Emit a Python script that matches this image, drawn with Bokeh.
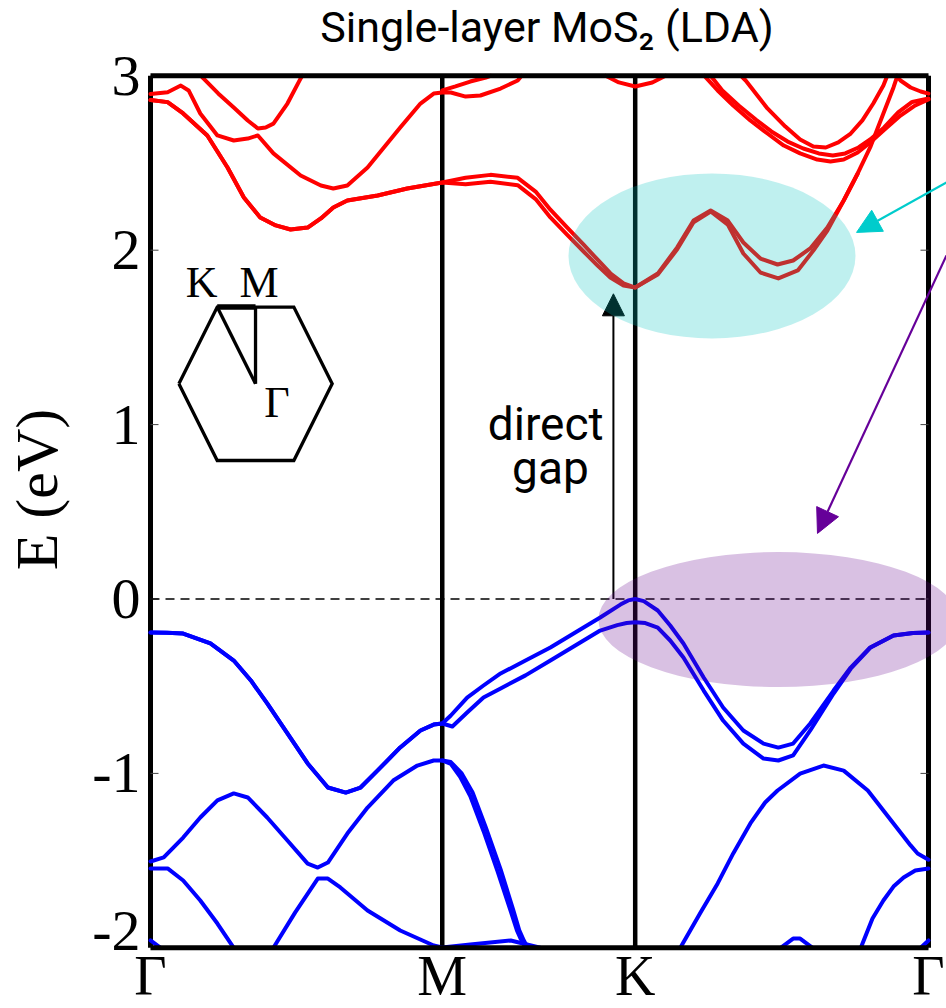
from bokeh.plotting import figure
from bokeh.models import Range1d, FixedTicker, Label, Arrow, NormalHead
from bokeh.embed import file_html
from bokeh.resources import INLINE

# ---- k-path and energy window -------------------------------------------
k_path = [0.0, 0.375, 0.623, 1.0]
k_labels = ["Γ", "M", "K", "Γ"]
e_min, e_max = -2.0, 3.0
energy_ticks = [-2, -1, 0, 1, 2, 3]
energy_tick_labels = ["-2", "-1", "0", "1", "2", "3"]
# the lowest label sits a little above its tick so it clears the Γ below it
energy_label_pos = [-1.905, -1, 0, 1, 2, 3]
title_text = "Single-layer MoS₂ (LDA)"

# ---- conduction bands (k, E in eV) --------------------------------------
cb1_gm = [(0.000, 2.861), (0.022, 2.849), (0.042, 2.784), (0.073, 2.658), (0.099, 2.474),
          (0.120, 2.302), (0.141, 2.188), (0.161, 2.142), (0.180, 2.119), (0.202, 2.130),
          (0.219, 2.182), (0.235, 2.245), (0.253, 2.285), (0.292, 2.314), (0.330, 2.354),
          (0.375, 2.388)]
cb1_up = cb1_gm + [
    (0.405, 2.415), (0.437, 2.432), (0.472, 2.415), (0.495, 2.336), (0.514, 2.232),
    (0.536, 2.128), (0.557, 2.030), (0.575, 1.944), (0.591, 1.868), (0.608, 1.810),
    (0.623, 1.786), (0.652, 1.866), (0.677, 2.016), (0.698, 2.170), (0.720, 2.228),
    (0.742, 2.170), (0.762, 2.044), (0.784, 1.952), (0.806, 1.918), (0.826, 1.941),
    (0.848, 2.010), (0.870, 2.130), (0.891, 2.285), (0.909, 2.440), (0.925, 2.589),
    (0.942, 2.784), (0.955, 2.933), (0.960, 3.000)]
cb1_dn = cb1_gm + [
    (0.405, 2.378), (0.437, 2.393), (0.472, 2.373), (0.495, 2.293), (0.514, 2.188),
    (0.536, 2.086), (0.557, 1.991), (0.575, 1.910), (0.591, 1.843), (0.608, 1.797),
    (0.623, 1.786), (0.652, 1.860), (0.677, 2.005), (0.698, 2.160), (0.720, 2.222),
    (0.742, 2.147), (0.762, 1.981), (0.784, 1.872), (0.807, 1.838), (0.832, 1.884),
    (0.852, 1.998), (0.870, 2.113), (0.891, 2.285), (0.909, 2.440)]
cb2 = [(0.000, 2.896), (0.022, 2.906), (0.039, 2.944), (0.049, 2.916), (0.064, 2.784),
       (0.086, 2.658), (0.107, 2.629), (0.125, 2.640), (0.138, 2.658), (0.158, 2.555),
       (0.193, 2.428), (0.219, 2.371), (0.235, 2.354), (0.253, 2.371), (0.279, 2.474),
       (0.321, 2.704), (0.347, 2.841), (0.364, 2.898), (0.375, 2.904), (0.386, 2.904),
       (0.405, 2.881), (0.424, 2.887), (0.450, 2.927), (0.472, 2.973), (0.477, 3.000)]
cb3 = [(0.065, 3.000), (0.068, 2.985), (0.087, 2.899), (0.107, 2.818), (0.125, 2.744),
       (0.138, 2.698), (0.148, 2.704), (0.158, 2.726), (0.176, 2.841), (0.193, 2.985),
       (0.195, 3.000)]
cb4 = [(0.375, 2.916), (0.392, 2.939), (0.411, 2.967), (0.431, 2.990), (0.437, 3.000)]
cb5 = [(0.585, 3.000), (0.602, 2.962), (0.623, 2.939), (0.645, 2.962), (0.662, 3.000)]
cb6_up = [(0.712, 3.000), (0.729, 2.916), (0.749, 2.830), (0.771, 2.744), (0.793, 2.669),
          (0.814, 2.600), (0.835, 2.555), (0.857, 2.520), (0.874, 2.509), (0.891, 2.520),
          (0.909, 2.560), (0.925, 2.618), (0.945, 2.698), (0.964, 2.772), (0.983, 2.830),
          (1.000, 2.864)]
cb6_dn = [(0.720, 3.000), (0.735, 2.916), (0.756, 2.830), (0.778, 2.749), (0.798, 2.681),
          (0.819, 2.623), (0.839, 2.583), (0.859, 2.555), (0.877, 2.543), (0.893, 2.555),
          (0.910, 2.589), (0.925, 2.635), (0.943, 2.704), (0.961, 2.790), (0.979, 2.850),
          (1.000, 2.870)]
cb7 = [(0.759, 3.000), (0.765, 2.973), (0.793, 2.813), (0.816, 2.709), (0.835, 2.635),
       (0.852, 2.595), (0.868, 2.589), (0.884, 2.618), (0.900, 2.669), (0.915, 2.744),
       (0.929, 2.841), (0.942, 2.944), (0.947, 3.000)]
cb8 = [(0.959, 3.000), (0.964, 2.973), (0.977, 2.933), (0.990, 2.910), (1.000, 2.898)]

# ---- valence bands (k, E in eV) -----------------------------------------
vb1_gm = [(0.000, -0.192), (0.021, -0.193), (0.042, -0.198), (0.077, -0.255), (0.107, -0.353),
          (0.129, -0.467), (0.150, -0.599), (0.176, -0.771), (0.202, -0.943), (0.228, -1.081),
          (0.251, -1.110), (0.270, -1.081), (0.292, -0.983), (0.321, -0.851), (0.347, -0.754),
          (0.364, -0.720), (0.375, -0.714)]
vb1_up = vb1_gm + [
    (0.386, -0.668), (0.407, -0.565), (0.428, -0.496), (0.450, -0.427), (0.482, -0.353),
    (0.514, -0.278), (0.546, -0.192), (0.578, -0.106), (0.604, -0.032), (0.614, -0.008),
    (0.623, 0.000), (0.634, -0.012), (0.652, -0.066), (0.668, -0.152), (0.685, -0.255),
    (0.711, -0.450), (0.736, -0.622), (0.762, -0.754), (0.788, -0.829), (0.807, -0.852),
    (0.826, -0.829), (0.848, -0.714), (0.878, -0.525), (0.900, -0.393), (0.925, -0.278),
    (0.955, -0.209), (0.980, -0.195), (1.000, -0.192)]
vb1_dn = vb1_gm + [
    (0.388, -0.731), (0.407, -0.651), (0.428, -0.565), (0.450, -0.513), (0.482, -0.438),
    (0.514, -0.353), (0.546, -0.267), (0.578, -0.181), (0.600, -0.150), (0.612, -0.138),
    (0.623, -0.133), (0.636, -0.138), (0.652, -0.164), (0.668, -0.238), (0.685, -0.335),
    (0.711, -0.525), (0.736, -0.697), (0.762, -0.829), (0.788, -0.915), (0.807, -0.926),
    (0.826, -0.897), (0.848, -0.754), (0.878, -0.542), (0.900, -0.400), (0.925, -0.280),
    (0.955, -0.209), (0.980, -0.195), (1.000, -0.192)]
vb2 = [(0.000, -1.505), (0.017, -1.482), (0.042, -1.368), (0.064, -1.253), (0.086, -1.155),
       (0.107, -1.115), (0.125, -1.138), (0.150, -1.253), (0.176, -1.385), (0.202, -1.517),
       (0.215, -1.540), (0.228, -1.511), (0.253, -1.345), (0.279, -1.196), (0.312, -1.041),
       (0.343, -0.955), (0.364, -0.926), (0.375, -0.926), (0.386, -0.945), (0.398, -1.020),
       (0.411, -1.130), (0.428, -1.330), (0.446, -1.560), (0.463, -1.790), (0.471, -1.900),
       (0.476, -1.950), (0.481, -1.990), (0.483, -2.000)]
vb2_b = [(0.375, -0.926), (0.386, -0.935), (0.400, -1.000), (0.414, -1.110), (0.431, -1.310),
         (0.450, -1.550), (0.466, -1.780), (0.474, -1.900), (0.480, -1.960), (0.485, -2.000)]
vb3 = [(0.000, -1.545), (0.022, -1.545), (0.042, -1.614), (0.064, -1.729), (0.086, -1.861),
       (0.107, -2.000)]
vb4 = [(0.158, -2.000), (0.186, -1.797), (0.215, -1.603), (0.228, -1.603),
       (0.244, -1.654), (0.279, -1.786), (0.321, -1.901), (0.364, -1.987), (0.375, -1.998),
       (0.411, -1.981), (0.463, -1.958), (0.501, -2.000)]
vb5 = [(0.681, -2.000), (0.707, -1.797), (0.729, -1.631), (0.749, -1.459),
       (0.771, -1.287), (0.790, -1.167), (0.806, -1.098), (0.835, -1.001), (0.865, -0.955),
       (0.891, -0.984), (0.922, -1.098), (0.955, -1.287), (0.977, -1.413), (0.986, -1.459),
       (1.000, -1.495)]
vb6 = [(0.913, -2.000), (0.928, -1.832), (0.942, -1.729), (0.955, -1.649),
       (0.968, -1.597), (0.983, -1.557), (1.000, -1.545)]
vb7 = [(0.810, -2.000), (0.826, -1.947), (0.835, -1.947), (0.851, -2.000)]
vb_edge_l = [(0.000, -1.958), (0.013, -2.000)]
vb_edge_r = [(0.990, -2.000), (1.000, -1.958)]

conduction = [cb1_up, cb1_dn, cb2, cb3, cb4, cb5, cb6_up, cb6_dn, cb7, cb8]
valence = [vb1_up, vb1_dn, vb2, vb2_b, vb3, vb4, vb5, vb6, vb7, vb_edge_l, vb_edge_r]

# direct gap at K, highlighted valleys
gap_k, gap_top = 0.595, 1.75
cb_valley = dict(x=0.7217, y=1.967, w=0.3689, h=0.946)
vb_valley = dict(x=0.807, y=-0.118, w=0.4627, h=0.774)

# ---- figure: the frame fills the canvas height, axis on the left --------
p = figure(width=946, height=1008, output_backend="svg", toolbar_location=None,
           title=None, x_axis_location=None,
           x_range=Range1d(-0.02828, 1.02313), y_range=Range1d(-2.3481, 3.4318),
           min_border_left=128, min_border_right=0, min_border_top=0, min_border_bottom=0)
p.outline_line_color = None
p.grid.visible = False
p.background_fill_color = "white"
p.border_fill_color = "white"

ya = p.yaxis[0]
ya.ticker = FixedTicker(ticks=energy_label_pos)
ya.major_label_overrides = {t: s for t, s in zip(energy_label_pos, energy_tick_labels)}
ya.axis_line_color = None
ya.major_tick_line_color = None
ya.minor_tick_line_color = None
ya.major_tick_in = 0
ya.major_tick_out = 0
ya.major_label_text_font = "Liberation Serif"
ya.major_label_text_font_size = "58px"
ya.major_label_text_color = "black"
ya.major_label_standoff = -12
ya.axis_label = "\u00a0\u00a0E (eV)"
ya.axis_label_text_font = "Liberation Serif"
ya.axis_label_text_font_size = "60px"
ya.axis_label_text_font_style = "normal"
ya.axis_label_text_color = "black"
ya.axis_label_standoff = 19

# high-symmetry lines (the outer two close the frame)
for i, k in enumerate(k_path):
    lw = 5 if i in (0, len(k_path) - 1) else 4.5
    p.line([k, k], [e_min, e_max], line_color="black", line_width=lw)

# short inner tick marks on both sides of the frame
tick_len = 0.0103
n_t = len(energy_ticks)
p.segment(x0=[k_path[0]] * n_t, y0=energy_ticks, x1=[k_path[0] + tick_len] * n_t, y1=energy_ticks,
          line_color="#444444", line_width=1)
p.segment(x0=[k_path[-1]] * n_t, y0=energy_ticks, x1=[k_path[-1] - tick_len] * n_t, y1=energy_ticks,
          line_color="#444444", line_width=1)

# Fermi level / valence-band maximum
p.line([k_path[0], k_path[-1]], [0, 0], line_color="black", line_width=1.6, line_dash="9 6")


def draw_band(band, color):
    ks = [pt[0] for pt in band]
    es = [pt[1] for pt in band]
    p.line(ks, es, line_color=color, line_width=4, line_join="round", line_cap="round")


for b in conduction:
    draw_band(b, "#ff0000")
for b in valence:
    draw_band(b, "#0000ff")

# top and bottom of the frame
for e in (e_min, e_max):
    p.line([k_path[0], k_path[-1]], [e, e], line_color="black", line_width=5)

# direct gap arrow
p.add_layout(Arrow(x_start=gap_k, y_start=0.0, x_end=gap_k, y_end=gap_top,
                   line_color="black", line_width=2, level="underlay",
                   end=NormalHead(size=22, fill_color="black", line_color="black")))

# valley highlights
p.ellipse(x=[cb_valley["x"]], y=[cb_valley["y"]], width=[cb_valley["w"]], height=[cb_valley["h"]],
          fill_color="#00c4c0", fill_alpha=0.25, line_color=None)
p.ellipse(x=[vb_valley["x"]], y=[vb_valley["y"]], width=[vb_valley["w"]], height=[vb_valley["h"]],
          fill_color="#680890", fill_alpha=0.25, line_color=None)

# pointers into the valleys
p.add_layout(Arrow(x_start=1.0231, y_start=2.388, x_end=0.9075, y_end=2.102,
                   line_color="#00cccc", line_width=2.2,
                   end=NormalHead(size=24, fill_color="#00cccc", line_color="#00cccc")))
p.add_layout(Arrow(x_start=1.0231, y_start=1.97, x_end=0.8573, y_end=0.376,
                   line_color="#660099", line_width=2.2,
                   end=NormalHead(size=24, fill_color="#660099", line_color="#660099")))

# Brillouin-zone inset
hx, hy, hw, hh = 0.1350, 1.234, 0.0985, 0.4398
hex_x = [hx - hw, hx - hw / 2, hx + hw / 2, hx + hw, hx + hw / 2, hx - hw / 2, hx - hw]
hex_y = [hy, hy + hh, hy + hh, hy, hy - hh, hy - hh, hy]
p.line(hex_x, hex_y, line_color="black", line_width=3.3, line_join="miter")
p.line([hx - hw / 2, hx], [hy + hh, hy], line_color="black", line_width=3.3)
p.line([hx, hx], [hy + hh, hy], line_color="black", line_width=3.3)
p.line([hx - hw / 2, hx], [hy + hh, hy + hh], line_color="black", line_width=5.5)
for txt, x, y in [("K", 0.0656, 1.815), ("M", 0.1395, 1.815), ("Γ", 0.1626, 1.127)]:
    p.add_layout(Label(x=x, y=y, text=txt, text_align="center", text_baseline="alphabetic",
                       text_font="Liberation Serif", text_font_size="44px", text_color="black"))

# annotation text for the gap
p.add_layout(Label(x=0.508, y=1.003, text="direct", text_align="center",
                   text_baseline="alphabetic", text_font="Roboto", text_font_size="46px",
                   text_color="black"))
p.add_layout(Label(x=0.514, y=0.751, text="gap", text_align="center",
                   text_baseline="alphabetic", text_font="Roboto", text_font_size="46px",
                   text_color="black"))

# title above the frame
p.add_layout(Label(x=0.5096, y=3.277, text=title_text, text_align="center",
                   text_baseline="alphabetic", text_font="Roboto", text_font_size="43px",
                   text_color="black"))

# k-point labels under the frame
for k, lab in zip(k_path, k_labels):
    p.add_layout(Label(x=k, y=-2.1646, text=lab, text_align="center", text_baseline="alphabetic",
                       text_font="Liberation Serif", text_font_size="56px", text_color="black"))

open("out.html", "w").write(file_html(p, INLINE))
